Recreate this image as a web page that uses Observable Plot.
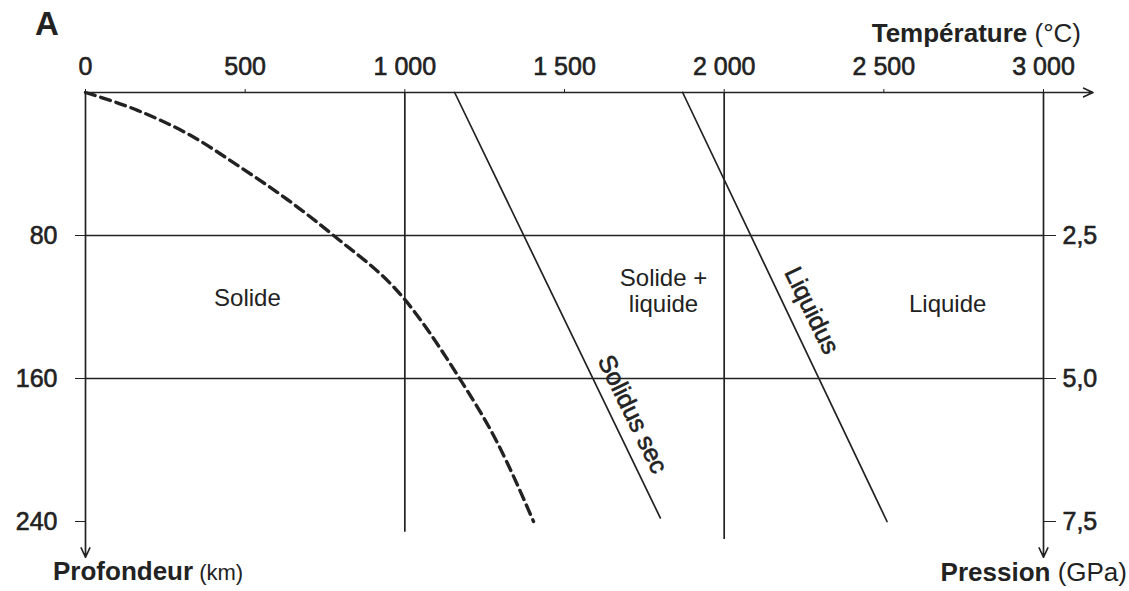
<!DOCTYPE html>
<html>
<head>
<meta charset="utf-8">
<script src="https://cdn.jsdelivr.net/npm/d3@7"></script>
<script src="https://cdn.jsdelivr.net/npm/@observablehq/plot@0.6"></script>
<style>
  body { margin: 0; background: #fff; }
  svg { display: block; }
  g[aria-label="x-axis tick label"] text,
  g[aria-label="y-axis tick label"] text,
  g.curve-label text { stroke: #222; stroke-width: 0.6px; }
</style>
</head>
<body>
<script>
// ---- data ----
const tempTicks = [0, 500, 1000, 1500, 2000, 2500, 3000];
const depthTicks = [80, 160, 240];
const pressureLabels = ["2,5", "5,0", "7,5"];

const gridTemp = [1000, 2000];
const gridTempEnd = [246, 250];
const gridDepth = [80, 160];

// geotherm (dashed)
const geoTemp  = [0, 163, 319, 495, 633, 777, 996, 1168, 1290, 1403];
const geoDepth = [0, 10, 23, 43, 60, 80, 115, 159, 196, 240];

// dry solidus
const solidusTemp  = [1156, 1800];
const solidusDepth = [0, 238];

// liquidus
const liquidusTemp  = [1870, 2510];
const liquidusDepth = [0, 240];

const regionNames = ["Solide", "Solide +\nliquide", "Liquide"];
const regionTemp  = [507, 1810, 2700];
const regionDepth = [115, 111, 118];

const curveNames = ["Solidus sec", "Liquidus"];
const curveTemp  = [1713, 2274];
const curveDepth = [180, 122];

const axisTempEnd = 3155;
const axisDepthEnd = 260;

// ---- build ----
const fmt = d3.formatLocale({decimal: ",", thousands: " ", grouping: [3], currency: ["", ""]}).format(",");
const toRows = (xs, ys) => xs.map((x, i) => ({x, y: ys[i]}));

const geotherm = toRows(geoTemp, geoDepth);
const solidus = toRows(solidusTemp, solidusDepth);
const liquidus = toRows(liquidusTemp, liquidusDepth);
const vgrid = toRows(gridTemp, gridTempEnd);
const regions = regionNames.map((n, i) => ({n, x: regionTemp[i], y: regionDepth[i]}));
const curves = curveNames.map((n, i) => ({n, x: curveTemp[i], y: curveDepth[i]}));
const arrows = [
  {x1: 0, y1: 0, x2: axisTempEnd, y2: 0},
  {x1: 0, y1: 0, x2: 0, y2: axisDepthEnd},
  {x1: tempTicks[tempTicks.length - 1], y1: 0, x2: tempTicks[tempTicks.length - 1], y2: axisDepthEnd}
];

const ink = "#222";

const svg = Plot.plot({
  width: 1129,
  height: 591,
  marginTop: 92,
  marginBottom: 70,
  marginLeft: 85,
  marginRight: 86,
  style: {fontFamily: "'Liberation Sans', Arial, sans-serif", fontSize: "25px", color: ink, background: "#fff", overflow: "visible"},
  x: {domain: [0, 3000], axis: null},
  y: {domain: [0, 240], reverse: true, axis: null},
  marks: [
    Plot.ruleY(gridDepth, {y: d => d, x1: () => 0, x2: () => 3000, stroke: ink, strokeWidth: 1.7}),
    Plot.ruleX(vgrid, {x: "x", y1: () => 0, y2: "y", stroke: ink, strokeWidth: 1.7}),
    Plot.arrow(arrows, {x1: "x1", y1: "y1", x2: "x2", y2: "y2", stroke: ink, strokeWidth: 1.7, headLength: 9, headAngle: 50}),
    Plot.axisX(tempTicks, {anchor: "top", tickSize: 4, tickPadding: 14, tickFormat: fmt, label: null, fontSize: 25, stroke: ink, fill: ink}),
    Plot.axisY(depthTicks, {anchor: "left", tickSize: 10, tickPadding: 18, tickFormat: d => String(d), label: null, fontSize: 25, stroke: ink, fill: ink}),
    Plot.axisY(depthTicks, {anchor: "right", tickSize: 12, tickPadding: 7, tickFormat: d => pressureLabels[depthTicks.indexOf(d)], label: null, fontSize: 25, stroke: ink, fill: ink}),
    Plot.line(geotherm, {x: "x", y: "y", curve: "monotone-x", stroke: ink, strokeWidth: 3.4, strokeDasharray: "10,6"}),
    Plot.line(solidus, {x: "x", y: "y", stroke: ink, strokeWidth: 1.7}),
    Plot.line(liquidus, {x: "x", y: "y", stroke: ink, strokeWidth: 1.7}),
    Plot.text(regions, {x: "x", y: "y", text: "n", fontSize: 24, fill: ink, lineHeight: 1.05}),
    Plot.text(curves, {x: "x", y: "y", text: "n", fontSize: 25, fill: ink, rotate: 64, className: "curve-label"})
  ]
});

// annotation titles
const s = d3.select(svg);
const fam = "'Liberation Sans', Arial, sans-serif";
s.append("text").attr("x", 47).attr("y", 35).attr("text-anchor", "middle")
  .attr("font-family", fam).attr("font-size", 33).attr("font-weight", "bold").attr("fill", ink).text("A");

const t1 = s.append("text").attr("x", 1081).attr("y", 42).attr("text-anchor", "end")
  .attr("font-family", fam).attr("font-size", 26).attr("fill", ink);
t1.append("tspan").attr("font-weight", "bold").text("Température");
t1.append("tspan").text(" (°C)");

const t2 = s.append("text").attr("x", 53).attr("y", 580).attr("text-anchor", "start")
  .attr("font-family", fam).attr("font-size", 26).attr("fill", ink);
t2.append("tspan").attr("font-weight", "bold").text("Profondeur");
t2.append("tspan").attr("font-size", 22).text(" (km)");

const t3 = s.append("text").attr("x", 1127).attr("y", 581).attr("text-anchor", "end")
  .attr("font-family", fam).attr("font-size", 26).attr("fill", ink);
t3.append("tspan").attr("font-weight", "bold").text("Pression");
t3.append("tspan").text(" (GPa)");

document.body.append(svg);
</script>
</body>
</html>
